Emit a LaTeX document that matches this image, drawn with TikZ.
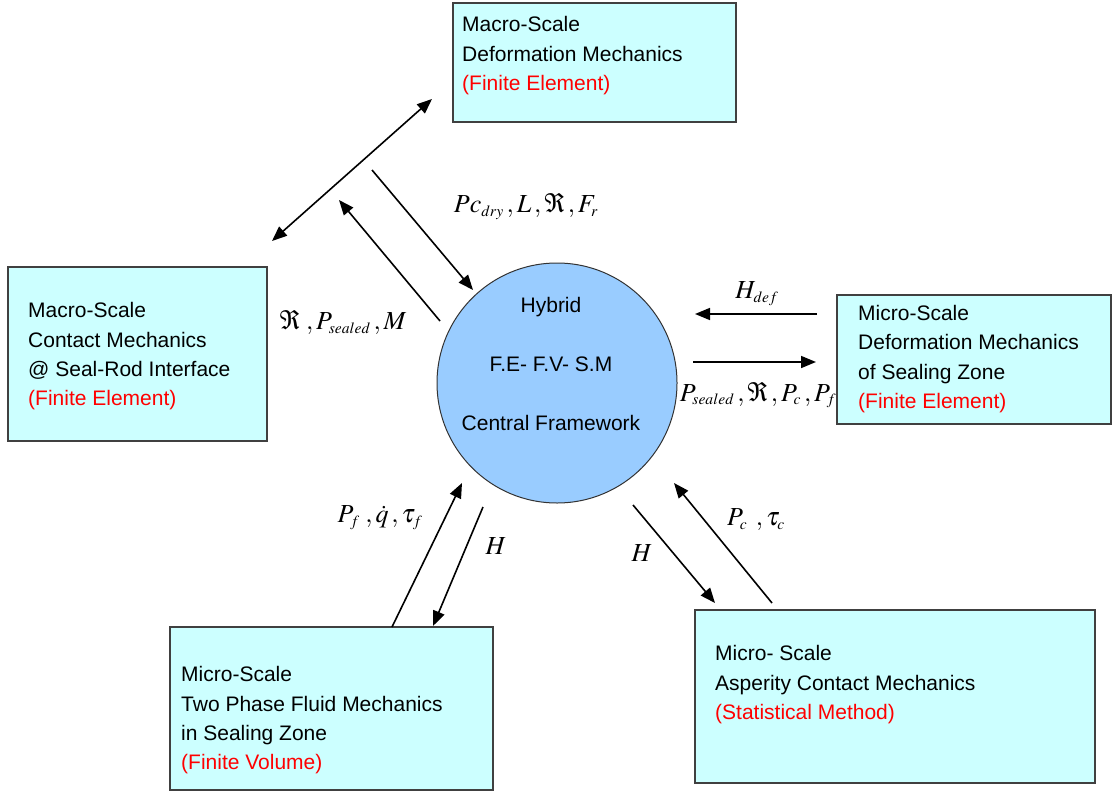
\documentclass[tikz,border=0pt]{standalone}
\usepackage{mathptmx}
\usepackage{fontspec}
\setmainfont{Liberation Sans}
\usetikzlibrary{arrows.meta}
\definecolor{boxfill}{HTML}{CCFFFF}
\definecolor{boxline}{HTML}{404040}
\definecolor{hubfill}{HTML}{99CCFF}
\definecolor{redtxt}{HTML}{FF0000}
\newcommand{\subs}[1]{_{\scriptscriptstyle #1}}
\begin{document}
\begin{tikzpicture}[x=1pt,y=-1pt,
  box/.style={draw=boxline, line width=1.4pt, fill=boxfill, inner sep=0pt},
  boxtxt/.style={anchor=north west, inner sep=0pt, align=left, font=\fontsize{21}{29.3}\selectfont},
  lbl/.style={inner sep=0pt, font=\fontsize{26}{30}\selectfont},
  arr/.style={line width=1.6pt, -{Triangle[length=15pt,width=12pt]}},
  darr/.style={line width=1.6pt, {Triangle[length=15pt,width=12pt]}-{Triangle[length=15pt,width=12pt]}}]
\useasboundingbox (0,0) rectangle (1113,792);
\fill[white] (0,0) rectangle (1113,792);

% boxes
\node[box, minimum width=283pt, minimum height=119pt] (mdef) at (594.5,62.5) {};
\node[box, minimum width=259pt, minimum height=174pt] (mcon) at (137.5,354) {};
\node[box, minimum width=274pt, minimum height=129pt] (udef) at (974,359.5) {};
\node[box, minimum width=323pt, minimum height=163pt] (ufl) at (331.5,708.5) {};
\node[box, minimum width=400pt, minimum height=173pt] (uasp) at (895,696.5) {};

% hub
\node[draw=black!80, line width=1pt, fill=hubfill, circle, minimum size=240pt, inner sep=0pt] (hub) at (557,383) {};
\node[inner sep=0pt, align=center, font=\fontsize{21}{59}\selectfont] (hubtxt) at (551,364) {Hybrid\\F.E- F.V- S.M\\Central Framework};

% box texts
\node[boxtxt] (mdeft) at (462,16.5) {Macro-Scale\\Deformation Mechanics\\\textcolor{redtxt}{(Finite Element)}};
\node[boxtxt] (mcont) at (28,302.5) {Macro-Scale\\Contact Mechanics\\@ Seal-Rod Interface\\\textcolor{redtxt}{(Finite Element)}};
\node[boxtxt] (udeft) at (858,305) {Micro-Scale\\Deformation Mechanics\\of Sealing Zone\\\textcolor{redtxt}{(Finite Element)}};
\node[boxtxt] (uflt) at (181,666.5) {Micro-Scale\\Two Phase Fluid Mechanics\\in Sealing Zone\\\textcolor{redtxt}{(Finite Volume)}};
\node[boxtxt] (uaspt) at (715,645.5) {Micro- Scale\\Asperity Contact Mechanics\\\textcolor{redtxt}{(Statistical Method)}};

% arrow end points
\coordinate (d1) at (272,241);
\coordinate (d2) at (432,99);
\coordinate (a1s) at (372,170);
\coordinate (a1e) at (473,290);
\coordinate (a2s) at (440,321);
\coordinate (a2e) at (339,200);
\coordinate (a3s) at (817,314);
\coordinate (a3e) at (695,314);
\coordinate (a4s) at (693,362);
\coordinate (a4e) at (816,362);
\coordinate (a5s) at (392,627);
\coordinate (a5e) at (462,483);
\coordinate (a6s) at (483,507);
\coordinate (a6e) at (433,626);
\coordinate (a7s) at (633,505);
\coordinate (a7e) at (715,603);
\coordinate (a8s) at (772,603);
\coordinate (a8e) at (674,483);

\draw[darr] (d1) -- (d2);
\draw[arr] (a1s) -- (a1e);
\draw[arr] (a2s) -- (a2e);
\draw[arr] (a3s) -- (a3e);
\draw[arr] (a4s) -- (a4e);
\draw[arr] (a5s) -- (a5e);
\draw[arr] (a6s) -- (a6e);
\draw[arr] (a7s) -- (a7e);
\draw[arr] (a8s) -- (a8e);

% labels
\node[lbl] (l1) at (526,206) {$Pc\subs{dry}\,, L\,,\Re\,, F\subs{r}$};
\node[lbl] (l2) at (343,322) {$\Re\;, P\subs{sealed}\,, M$};
\node[lbl] (l3) at (757,294) {$H\subs{def}$};
\node[lbl] (l4) at (758,395) {$P\subs{sealed}\,,\Re\,,P\subs{c}\,,P\subs{f}$};
\node[lbl] (l5) at (380,518) {$P\subs{f}\;,\dot q\,,\tau\subs{f}$};
\node[lbl] (l6) at (496,546) {$H$};
\node[lbl] (l7) at (642,553) {$H$};
\node[lbl] (l8) at (756,520) {$P\subs{c}\;\,,\tau\subs{c}$};
\end{tikzpicture}
\end{document}
